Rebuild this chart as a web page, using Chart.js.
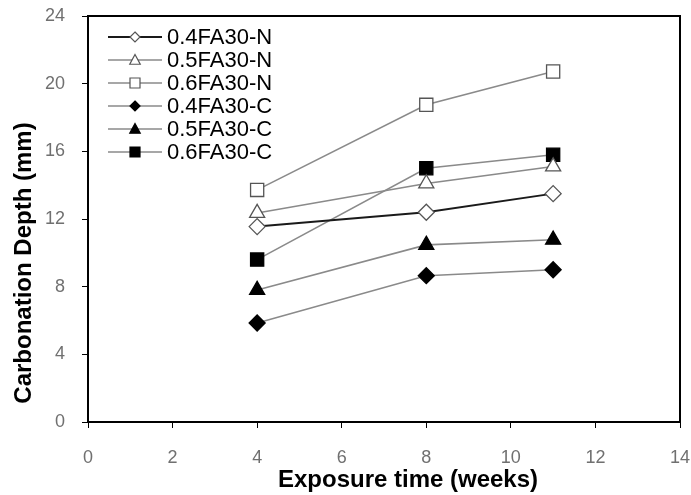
<!DOCTYPE html>
<html><head><meta charset="utf-8">
<script src="https://cdn.jsdelivr.net/npm/chart.js@4/dist/chart.umd.min.js"></script>
<style>html,body{margin:0;padding:0;background:#fff}#wrap{width:691px;height:495px}</style>
</head><body><div id="wrap"><canvas id="c" width="691" height="495"></canvas></div>
<script>
const weeks = [4, 8, 11];
const seriesNames = ["0.4FA30-N","0.5FA30-N","0.6FA30-N","0.4FA30-C","0.5FA30-C","0.6FA30-C"];
const s04N = [11.55, 12.4, 13.5];
const s05N = [12.35, 14.1, 15.1];
const s06N = [13.72, 18.75, 20.72];
const s04C = [5.85, 8.65, 9.0];
const s05C = [7.8, 10.47, 10.77];
const s06C = [9.6, 15.0, 15.8];
const yTicks = [0,4,8,12,16,20,24];
const xTicks = [0,2,4,6,8,10,12,14];
const xTitle = 'Exposure time (weeks)';
const yTitle = 'Carbonation Depth (mm)';

const GRAY = '#8a8a8a';
const styles = [
  {data:s04N, line:'#1a1a1a', lw:2, shape:'rectRot', fill:'#fff', r:8},
  {data:s05N, line:GRAY, lw:1.6, shape:'triangle', fill:'#fff', r:8.7},
  {data:s06N, line:GRAY, lw:1.6, shape:'rect', fill:'#fff', r:9.3},
  {data:s04C, line:GRAY, lw:1.6, shape:'rectRot', fill:'#000', r:8},
  {data:s05C, line:GRAY, lw:1.6, shape:'triangle', fill:'#000', r:8.7},
  {data:s06C, line:GRAY, lw:1.6, shape:'rect', fill:'#000', r:9.3}
];

const datasets = styles.map((s,i)=>({
  label: seriesNames[i],
  data: weeks.map((w,j)=>({x:w, y:s.data[j]})),
  borderColor: s.line, borderWidth: s.lw,
  pointStyle: s.shape, pointRadius: s.r, pointHoverRadius: s.r,
  pointBackgroundColor: s.fill, pointBorderColor: s.fill==='#fff' ? '#555' : '#000', pointBorderWidth: 1.3,
  tension: 0, fill:false
}));

function marker(ctx, shape, x, y, r, fill){
  ctx.save();
  ctx.fillStyle = fill; ctx.strokeStyle = fill==='#fff' ? '#555' : '#000'; ctx.lineWidth = 1.2;
  ctx.beginPath();
  if(shape==='rect'){ const h=r; ctx.rect(x-h,y-h,2*h,2*h); }
  else if(shape==='rectRot'){ ctx.moveTo(x,y-r); ctx.lineTo(x+r,y); ctx.lineTo(x,y+r); ctx.lineTo(x-r,y); ctx.closePath(); }
  else { ctx.moveTo(x,y-r*1.1); ctx.lineTo(x+r*1.05,y+r*0.85); ctx.lineTo(x-r*1.05,y+r*0.85); ctx.closePath(); }
  ctx.fill(); ctx.stroke(); ctx.restore();
}

const legendPlugin = {
  id:'customLegend',
  afterDraw(chart){
    const ctx = chart.ctx, a = chart.chartArea;
    const x0 = a.left + 20, y0 = a.top + 21, dy = 23;
    chart.data.datasets.forEach((d,i)=>{
      const s = styles[i], y = y0 + i*dy;
      ctx.save();
      ctx.strokeStyle = s.line; ctx.lineWidth = s.lw;
      ctx.beginPath(); ctx.moveTo(x0, y); ctx.lineTo(x0+54, y); ctx.stroke();
      marker(ctx, s.shape, x0+27, y, 5, s.fill);
      ctx.fillStyle = '#000'; ctx.font = '22px "Liberation Sans", Arial, sans-serif';
      ctx.textBaseline = 'middle'; ctx.textAlign = 'left';
      ctx.fillText(d.label, x0+59, y+1);
      ctx.restore();
    });
  }
};

const framePlugin = {
  id:'frame',
  afterDatasetsDraw(chart){
    const ctx = chart.ctx, a = chart.chartArea;
    ctx.save(); ctx.strokeStyle='#000'; ctx.lineWidth=2;
    ctx.strokeRect(a.left, a.top, a.right-a.left, a.bottom-a.top);
    ctx.restore();
  }
};

const titlePlugin = {
  id:'axisTitles',
  afterDraw(chart){
    const ctx = chart.ctx, a = chart.chartArea;
    ctx.save();
    ctx.fillStyle = '#000';
    ctx.font = 'bold 24px "Liberation Sans", Arial, sans-serif';
    ctx.textAlign = 'center'; ctx.textBaseline = 'middle';
    ctx.fillText(xTitle, (a.left + a.right)/2 + 24, a.bottom + 58);
    ctx.translate(a.left - 64, (a.top + a.bottom)/2 + 44);
    ctx.rotate(-Math.PI/2);
    ctx.fillText(yTitle, 0, 0);
    ctx.restore();
  }
};

new Chart(document.getElementById('c'), {
  type:'scatter',
  data:{datasets},
  options:{
    responsive:false, animation:false, devicePixelRatio:1,
    showLine:true,
    layout:{padding:{left:0, right:11, top:16, bottom:0}},
    plugins:{legend:{display:false}, tooltip:{enabled:false}},
    scales:{
      x:{type:'linear', min:0, max:14,
        afterBuildTicks(ax){ ax.ticks = xTicks.map(v=>({value:v})); },
        afterFit(ax){ ax.height = 73; ax.paddingLeft = 0; ax.paddingRight = 0; },
        grid:{display:true, drawOnChartArea:false, drawTicks:true, tickLength:6, color:'#000', lineWidth:1},
        border:{display:true, color:'#000', width:2},
        ticks:{color:'#707070', font:{family:'"Liberation Sans", Arial, sans-serif', size:18}, padding:19, maxRotation:0}
      },
      y:{type:'linear', min:0, max:24,
        afterBuildTicks(ax){ ax.ticks = yTicks.map(v=>({value:v})); },
        afterFit(ax){ ax.width = 88; ax.paddingTop = 0; ax.paddingBottom = 0; },
        grid:{display:true, drawOnChartArea:false, drawTicks:true, tickLength:6, color:'#000', lineWidth:1},
        border:{display:true, color:'#000', width:2},
        ticks:{color:'#707070', font:{family:'"Liberation Sans", Arial, sans-serif', size:18}, padding:17}
      }
    }
  },
  plugins:[legendPlugin, framePlugin, titlePlugin]
});
</script></body></html>
